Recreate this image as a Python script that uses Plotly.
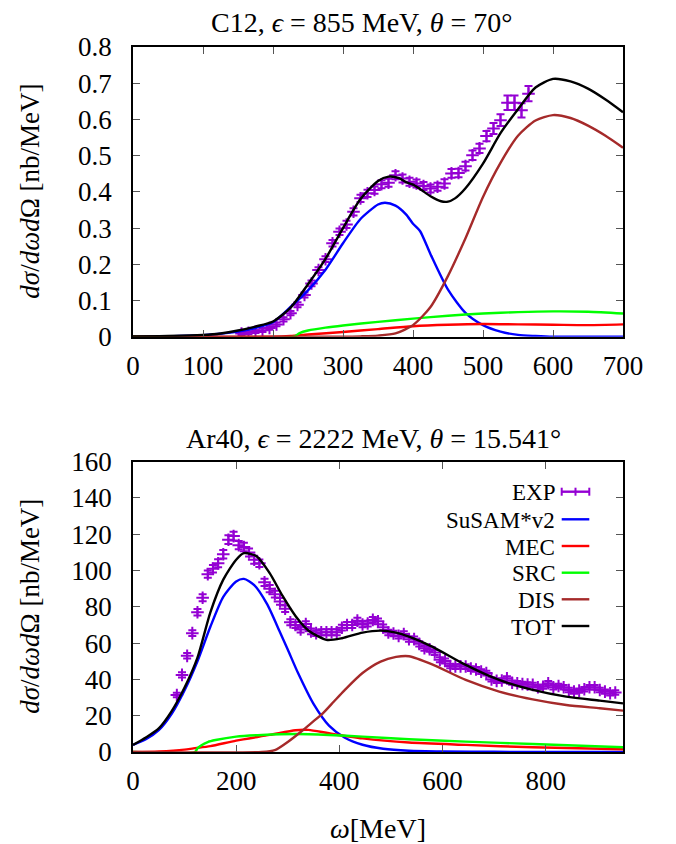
import plotly.graph_objects as go

# ---------------- C12, 855 MeV, 70 deg ----------------
c12_w = [0, 50, 100, 125, 150, 175, 200, 225, 250, 275, 300, 325, 350, 360, 375, 390,
         400, 410, 425, 450, 475, 500, 525, 550, 575, 600, 650, 700]
c12_susam = [0.000, 0.001, 0.004, 0.008, 0.014, 0.024, 0.040, 0.082, 0.128, 0.185, 0.258,
             0.325, 0.365, 0.370, 0.362, 0.338, 0.312, 0.292, 0.228, 0.130, 0.066, 0.032,
             0.014, 0.005, 0.002, 0.000, 0.000, 0.000]

c12_tot_w = [0, 50, 100, 125, 150, 175, 200, 225, 250, 275, 300, 325, 350, 365, 380, 390,
             400, 410, 425, 440, 450, 460, 475, 500, 525, 550, 575, 600, 625, 650, 675, 700]
c12_tot = [0.001, 0.002, 0.005, 0.009, 0.017, 0.028, 0.042, 0.080, 0.145, 0.215, 0.300,
           0.380, 0.430, 0.442, 0.438, 0.427, 0.420, 0.408, 0.388, 0.374, 0.373, 0.382,
           0.410, 0.478, 0.562, 0.628, 0.688, 0.712, 0.705, 0.685, 0.655, 0.620]

c12_dis_w = [0, 300, 325, 350, 375, 400, 425, 450, 475, 500, 525, 550, 575, 600, 625, 650, 675, 700]
c12_dis = [0.000, 0.000, 0.001, 0.003, 0.009, 0.032, 0.082, 0.168, 0.272, 0.386, 0.480,
           0.555, 0.597, 0.612, 0.604, 0.583, 0.555, 0.522]

c12_src_w = [0, 230, 238, 250, 275, 300, 350, 400, 450, 500, 550, 600, 650, 700]
c12_src = [0.000, 0.000, 0.010, 0.017, 0.025, 0.031, 0.041, 0.050, 0.058, 0.064, 0.068,
           0.070, 0.069, 0.064]

c12_mec_w = [0, 200, 225, 250, 300, 350, 400, 450, 500, 550, 600, 650, 700]
c12_mec = [0.000, 0.000, 0.002, 0.006, 0.013, 0.021, 0.029, 0.033, 0.035, 0.034, 0.033,
           0.032, 0.034]

c12_exp_w = [155, 165, 175, 185, 195, 205, 215, 225, 235, 245, 255, 265, 275, 285, 295,
             305, 315, 325, 335, 345, 355, 365, 375, 385, 395, 405, 415, 425, 435, 445,
             455, 465, 475, 485, 495, 505, 515, 525, 535, 545, 555, 565]
c12_exp = [0.009, 0.011, 0.014, 0.018, 0.024, 0.034, 0.048, 0.065, 0.088, 0.115, 0.147,
           0.184, 0.214, 0.258, 0.290, 0.310, 0.345, 0.382, 0.396, 0.405, 0.421, 0.425,
           0.446, 0.437, 0.428, 0.423, 0.416, 0.409, 0.414, 0.423, 0.451, 0.452, 0.471,
           0.501, 0.520, 0.554, 0.575, 0.598, 0.646, 0.646, 0.625, 0.671]
c12_err = [0.004, 0.004, 0.004, 0.005, 0.005, 0.005, 0.006, 0.006, 0.007, 0.007, 0.008,
           0.008, 0.008, 0.009, 0.009, 0.010, 0.010, 0.010, 0.010, 0.010, 0.011, 0.011,
           0.011, 0.011, 0.011, 0.011, 0.011, 0.011, 0.011, 0.012, 0.012, 0.012, 0.012,
           0.013, 0.013, 0.014, 0.015, 0.016, 0.020, 0.020, 0.020, 0.021]

# ---------------- Ar40, 2222 MeV, 15.541 deg ----------------
ar_susam_w = [0, 25, 50, 75, 100, 125, 150, 175, 200, 215, 235, 260, 285, 300, 320, 350,
              380, 410, 445, 485, 535, 600, 700, 950]
ar_susam = [3.9, 7.0, 12.0, 21.0, 34.0, 50.0, 69.0, 85.5, 94.0, 95.4, 92.0, 81.5, 66.0,
            56.5, 43.5, 26.5, 14.5, 8.0, 4.0, 1.8, 0.7, 0.3, 0.1, 0.0]

ar_tot_w = [0, 25, 50, 75, 100, 125, 150, 175, 200, 215, 240, 265, 290, 315, 340, 375,
            405, 445, 480, 510, 535, 580, 645, 710, 775, 840, 905, 950]
ar_tot = [3.9, 8.0, 13.0, 22.5, 35.5, 52.0, 77.0, 95.0, 106.0, 109.6, 107.8, 98.6, 86.0,
          75.0, 67.0, 61.8, 62.7, 65.8, 66.9, 65.8, 63.6, 58.1, 48.0, 39.7, 34.2, 30.5,
          28.3, 26.8]

ar_dis_w = [0, 250, 275, 300, 325, 345, 368, 390, 410, 445, 480, 510, 535, 580, 645, 710,
            775, 840, 905, 950]
ar_dis = [0.0, 0.0, 1.0, 5.5, 11.0, 15.8, 21.3, 28.0, 34.0, 43.5, 49.8, 52.4, 52.8, 48.3,
          39.7, 33.3, 29.0, 25.9, 24.1, 22.8]

ar_src_w = [0, 120, 125, 132, 145, 160, 200, 250, 315, 380, 445, 535, 645, 775, 950]
ar_src = [0.0, 0.0, 2.0, 3.6, 5.5, 6.6, 8.5, 9.4, 9.9, 9.4, 8.5, 7.0, 5.7, 4.4, 2.6]

ar_mec_w = [0, 50, 100, 117, 150, 200, 265, 315, 340, 380, 445, 535, 645, 775, 950]
ar_mec = [0.0, 0.3, 1.3, 2.0, 3.2, 6.3, 9.4, 12.0, 12.2, 10.3, 7.5, 5.2, 3.9, 2.6, 1.5]

ar_exp_w = [85, 95, 105, 115, 125, 135, 145, 155, 165, 175, 185, 195, 205, 215, 225, 235,
            245, 255, 265, 275, 285, 295, 305, 315, 325, 335, 345, 355, 365, 375, 385,
            395, 405, 415, 425, 435, 445, 455, 465, 475, 485, 495, 505, 515, 525, 535,
            545, 555, 565, 575, 585, 595, 605, 615, 625, 635, 645, 655, 665, 675, 685,
            695, 705, 715, 725, 735, 745, 755, 765, 775, 785, 795, 805, 815, 825, 835,
            845, 855, 865, 875, 885, 895, 905, 915, 925, 935]
ar_exp = [31.4, 42.5, 53.0, 65.5, 77.0, 85.0, 98.0, 101.0, 104.0, 109.0, 117.0, 119.0,
          114.0, 113.0, 110.0, 106.0, 104.0, 93.5, 90.0, 87.0, 83.0, 79.0, 71.5, 70.0,
          67.5, 70.5, 66.5, 65.5, 66.0, 66.0, 66.0, 66.0, 68.5, 70.0, 70.0, 72.4, 70.3,
          70.8, 72.8, 72.0, 68.7, 65.9, 65.3, 64.0, 65.0, 62.2, 62.2, 59.6, 57.2, 56.6,
          54.8, 50.8, 50.2, 47.4, 47.1, 47.2, 47.1, 46.0, 45.5, 44.3, 43.5, 40.0, 39.2,
          39.4, 40.6, 38.2, 37.9, 37.5, 37.2, 37.0, 35.7, 36.0, 37.9, 35.7, 36.4, 35.7,
          34.2, 33.3, 33.8, 34.6, 35.7, 35.7, 34.2, 33.3, 32.4, 32.8]
ar_err = [1.2, 1.4, 1.5, 1.6, 1.8, 1.9, 2.0, 2.1, 2.2, 2.3, 2.4, 2.4, 2.3, 2.3, 2.2, 2.2,
          2.1, 2.0, 2.0, 1.9, 1.9, 1.8, 1.7, 1.7, 1.6, 1.6, 1.6, 1.6, 1.6, 1.6, 1.6,
          1.6, 1.6, 1.6, 1.6, 1.6, 1.6, 1.6, 1.6, 1.6, 1.6, 1.5, 1.5, 1.5, 1.5, 1.5,
          1.5, 1.5, 1.4, 1.4, 1.4, 1.4, 1.4, 1.3, 1.3, 1.3, 1.3, 1.3, 1.3, 1.3, 1.3,
          1.2, 1.2, 1.2, 1.2, 1.2, 1.2, 1.2, 1.2, 1.2, 1.2, 1.2, 1.2, 1.2, 1.2, 1.2,
          1.2, 1.2, 1.2, 1.2, 1.2, 1.2, 1.2, 1.2, 1.2, 1.2]

# ---------------- styling ----------------
FONT = "Liberation Serif"
PURPLE = "#9400d3"
COLORS = {"SuSAM*v2": "#0000ff", "MEC": "#ff0000", "SRC": "#00ff00",
          "DIS": "#a52a2a", "TOT": "#000000"}
LW = 2.4

W, H = 676, 844
L, R, T, B = 133, 53, 47, 92
PH = H - T - B  # plotting height in px


def py(y_px):
    """pixel row -> paper y"""
    return (H - B - y_px) / PH


def px(x_px):
    """pixel column -> paper x"""
    return (x_px - L) / (W - L - R)


fig = go.Figure()


def add_curve(x, y, name, xa, ya):
    fig.add_trace(go.Scatter(x=x, y=y, mode="lines", name=name, showlegend=False,
                             line=dict(color=COLORS[name], width=LW, shape="spline",
                                       smoothing=0.7),
                             xaxis=xa, yaxis=ya))


def add_exp(x, y, e, xa, ya):
    fig.add_trace(go.Scatter(x=x, y=y, mode="markers", name="EXP", showlegend=False,
                             marker=dict(symbol="cross-thin", size=9, color=PURPLE,
                                         line=dict(color=PURPLE, width=2)),
                             error_y=dict(type="data", array=e, color=PURPLE,
                                          thickness=2, width=4),
                             xaxis=xa, yaxis=ya))


# top panel
add_exp(c12_exp_w, c12_exp, c12_err, "x", "y")
add_curve(c12_w, c12_susam, "SuSAM*v2", "x", "y")
add_curve(c12_mec_w, c12_mec, "MEC", "x", "y")
add_curve(c12_src_w, c12_src, "SRC", "x", "y")
add_curve(c12_dis_w, c12_dis, "DIS", "x", "y")
add_curve(c12_tot_w, c12_tot, "TOT", "x", "y")

# bottom panel
add_exp(ar_exp_w, ar_exp, ar_err, "x2", "y2")
add_curve(ar_susam_w, ar_susam, "SuSAM*v2", "x2", "y2")
add_curve(ar_mec_w, ar_mec, "MEC", "x2", "y2")
add_curve(ar_src_w, ar_src, "SRC", "x2", "y2")
add_curve(ar_dis_w, ar_dis, "DIS", "x2", "y2")
add_curve(ar_tot_w, ar_tot, "TOT", "x2", "y2")

axis_common = dict(showgrid=False, zeroline=False, showline=True, linecolor="black",
                   linewidth=1.8, mirror="ticks", ticks="inside", ticklen=7,
                   tickwidth=1.2, tickcolor="#555555",
                   tickfont=dict(family=FONT, size=27, color="black"))

top_dom = [py(336.7), 1.0]
bot_dom = [0.0, py(461.7)]

fig.update_layout(
    width=W, height=H, margin=dict(l=L, r=R, t=T, b=B),
    paper_bgcolor="white", plot_bgcolor="white", showlegend=False,
    xaxis=dict(axis_common, range=[0, 700], dtick=100, tick0=0, anchor="y",
               ticklabelstandoff=4),
    yaxis=dict(axis_common, range=[0, 0.8], dtick=0.1, tick0=0, domain=top_dom,
               anchor="x", ticklabelstandoff=14),
    xaxis2=dict(axis_common, range=[0, 950], dtick=200, tick0=0, anchor="y2",
                ticklabelstandoff=4),
    yaxis2=dict(axis_common, range=[0, 160], dtick=20, tick0=0, domain=bot_dom,
                anchor="x2", ticklabelstandoff=14),
)

ann = []
# panel titles
ann.append(dict(text="C12, <i>ϵ</i> = 855 MeV, <i>θ</i> = 70°", x=px(361), y=py(22),
                xref="paper", yref="paper", showarrow=False, xanchor="center",
                yanchor="middle", font=dict(family=FONT, size=28, color="black")))
ann.append(dict(text="Ar40, <i>ϵ</i> = 2222 MeV, <i>θ</i> = 15.541°", x=px(373), y=py(438),
                xref="paper", yref="paper", showarrow=False, xanchor="center",
                yanchor="middle", font=dict(family=FONT, size=28, color="black")))
# y-axis labels
ylab = "<i>dσ</i>/<i>dωd</i>Ω [nb/MeV]"
for yc in [(46.7 + 336.7) / 2, (461.7 + 752) / 2]:
    ann.append(dict(text=ylab, x=px(30), y=py(yc), xref="paper", yref="paper",
                    showarrow=False, textangle=-90, xanchor="center", yanchor="middle",
                    font=dict(family=FONT, size=27, color="black")))
# x-axis label
ann.append(dict(text="<i>ω</i>[MeV]", x=px(378), y=py(828), xref="paper", yref="paper",
                showarrow=False, xanchor="center", yanchor="middle",
                font=dict(family=FONT, size=28, color="black")))

# key inside the lower panel: text right-aligned, sample to the right
key_names = ["EXP", "SuSAM*v2", "MEC", "SRC", "DIS", "TOT"]
key_rows = [491.7, 519.3, 546.0, 572.7, 599.3, 626.0]
x_txt, x0, x1 = 556, 561.7, 589.3
shapes = []
for name, yr in zip(key_names, key_rows):
    ann.append(dict(text=name, x=px(x_txt), y=py(yr + 1), xref="paper", yref="paper",
                    showarrow=False, xanchor="right", yanchor="middle", borderpad=0,
                    font=dict(family=FONT, size=23, color="black")))
    col = PURPLE if name == "EXP" else COLORS[name]
    shapes.append(dict(type="line", xref="paper", yref="paper", x0=px(x0), x1=px(x1),
                       y0=py(yr), y1=py(yr), line=dict(color=col, width=LW)))
    if name == "EXP":
        for xc, hh in [(x0, 4), (x1, 4), ((x0 + x1) / 2, 4)]:
            shapes.append(dict(type="line", xref="paper", yref="paper", x0=px(xc),
                               x1=px(xc), y0=py(yr - hh), y1=py(yr + hh),
                               line=dict(color=col, width=2)))

fig.update_layout(annotations=ann, shapes=shapes)

fig.write_html("out.html")
